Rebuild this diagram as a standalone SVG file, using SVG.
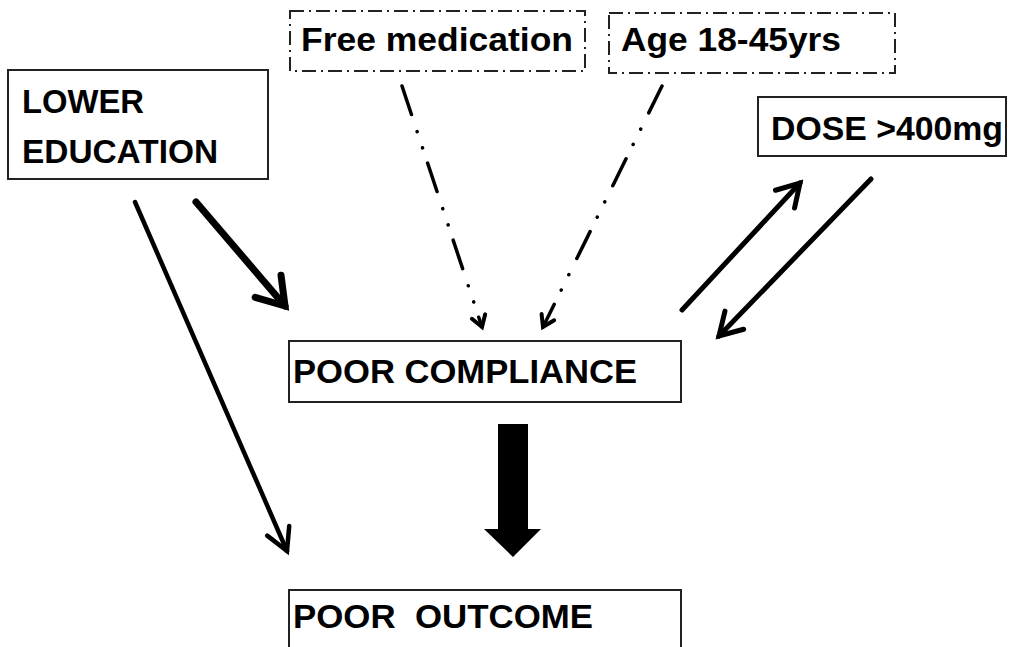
<svg xmlns="http://www.w3.org/2000/svg" width="1011" height="647" viewBox="0 0 1011 647">
<style>
.box{fill:#fff;stroke:#222;stroke-width:2}
.dbox{fill:#fff;stroke:#222;stroke-width:2;stroke-dasharray:14 5 2 5}
.t{font-family:"Liberation Sans",Arial,sans-serif;font-weight:bold;font-size:34px;fill:#000;white-space:pre}
.ln{fill:none;stroke:#000;stroke-linecap:round}
.dd{fill:none;stroke:#000;stroke-width:3.5;stroke-linecap:round;stroke-dasharray:30 18 0.1 17 0.1 16}
.hd{fill:none;stroke:#000;stroke-linecap:round;stroke-linejoin:miter;stroke-dasharray:none}
</style>
<defs>
<marker id="hThick" markerUnits="userSpaceOnUse" markerWidth="60" markerHeight="60" viewBox="-40 -30 60 60" refX="0" refY="0" orient="auto" overflow="visible">
<path class="hd" d="M-26,-17 L0,0 L-26,17" stroke-width="7"/>
</marker>
<marker id="hMed" markerUnits="userSpaceOnUse" markerWidth="60" markerHeight="60" viewBox="-40 -30 60 60" refX="0" refY="0" orient="auto" overflow="visible">
<path class="hd" d="M-22,-13 L0,0 L-22,13" stroke-width="5"/>
</marker>
<marker id="hThin" markerUnits="userSpaceOnUse" markerWidth="60" markerHeight="60" viewBox="-40 -30 60 60" refX="0" refY="0" orient="auto" overflow="visible">
<path class="hd" d="M-22,-12 L0,0 L-22,12" stroke-width="4.5"/>
</marker>
<marker id="hDot" markerUnits="userSpaceOnUse" markerWidth="30" markerHeight="30" viewBox="-20 -15 30 30" refX="0" refY="0" orient="auto" overflow="visible">
<path class="hd" d="M-11,-7 L0,0 L-11,7" stroke-width="4"/>
</marker>
</defs>

<g id="connectors">
<path class="ln" d="M196,202 L285,306" stroke-width="7" marker-end="url(#hThick)"/>
<path class="ln" d="M135,202 L287,551" stroke-width="4.5" marker-end="url(#hThin)"/>
<path class="dd" d="M402,86 L482,327" marker-end="url(#hDot)"/>
<path class="dd" d="M662,86 L543,327" marker-end="url(#hDot)"/>
<path class="ln" d="M682,310 L800,183" stroke-width="5" marker-end="url(#hMed)"/>
<path class="ln" d="M871,179 L719,336" stroke-width="5" marker-end="url(#hMed)"/>
<polygon points="498,424 528,424 528,529 541,529 513,557 484,529 498,529" fill="#000"/>
</g>

<g id="lower-education">
<rect class="box" x="8" y="70" width="260" height="109"/>
<text class="t" x="22" y="113" textLength="122" lengthAdjust="spacingAndGlyphs">LOWER</text>
<text class="t" x="22" y="163" textLength="196" lengthAdjust="spacingAndGlyphs">EDUCATION</text>
</g>

<g id="free-medication">
<rect class="dbox" x="290" y="11" width="295" height="60"/>
<text class="t" x="301" y="51" textLength="272" lengthAdjust="spacingAndGlyphs">Free medication</text>
</g>

<g id="age">
<rect class="dbox" x="609" y="13" width="286" height="60"/>
<text class="t" x="621" y="51" textLength="220" lengthAdjust="spacingAndGlyphs">Age 18-45yrs</text>
</g>

<g id="dose">
<rect class="box" x="758" y="97" width="248" height="59"/>
<text class="t" x="771" y="140" textLength="232" lengthAdjust="spacingAndGlyphs">DOSE &gt;400mg</text>
</g>

<g id="poor-compliance">
<rect class="box" x="289" y="341" width="392" height="61"/>
<text class="t" x="293" y="383" textLength="344" lengthAdjust="spacingAndGlyphs">POOR COMPLIANCE</text>
</g>

<g id="poor-outcome">
<rect class="box" x="289" y="590" width="392" height="70"/>
<text class="t" x="293" y="628" textLength="300" lengthAdjust="spacingAndGlyphs">POOR  OUTCOME</text>
</g>
</svg>
